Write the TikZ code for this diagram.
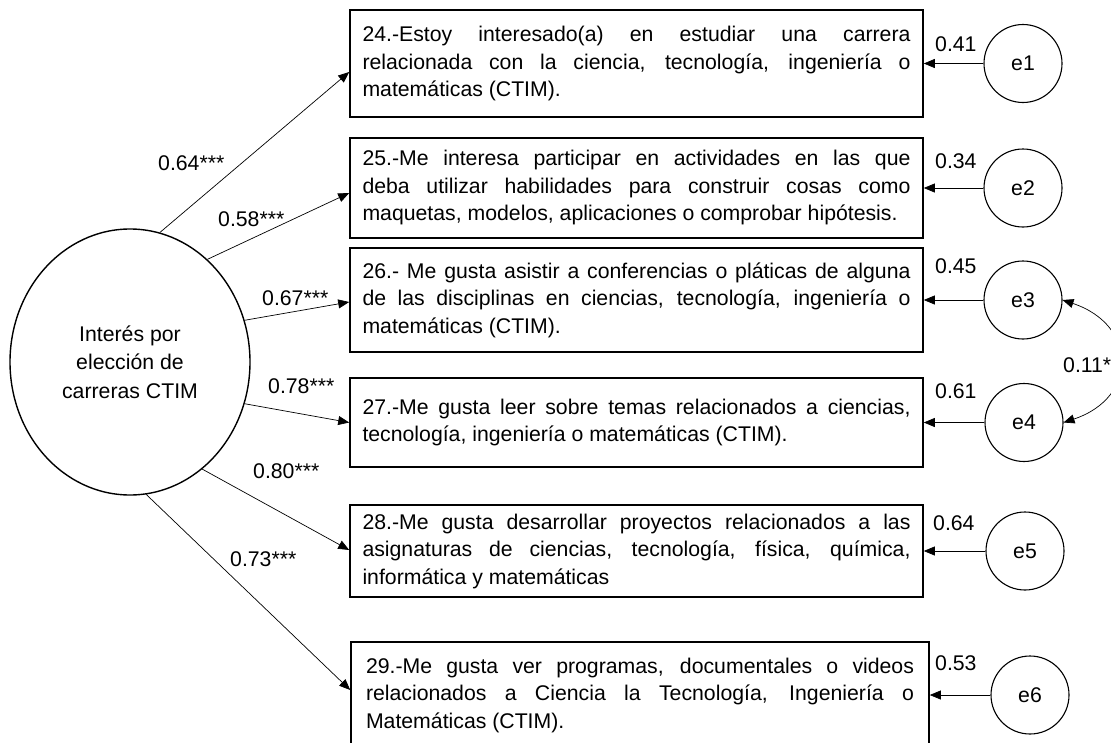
\documentclass[tikz,border=0pt]{standalone}
\usepackage{fontspec}
\setmainfont{Liberation Sans}
\usetikzlibrary{shapes.geometric,arrows.meta}
\hyphenpenalty=10000
\exhyphenpenalty=10000
\tolerance=9999

\begin{document}
\begin{tikzpicture}[
  x=1pt, y=-1pt,
  item/.style={rectangle, draw, line width=1.6pt, text width=548pt, inner xsep=12.5pt, align=justify, font=\fontsize{21.25}{27.5}\selectfont},
  err/.style={circle, draw, line width=1.1pt, minimum size=78pt, inner sep=0pt, font=\fontsize{21.25}{25}\selectfont},
  coef/.style={font=\fontsize{21.25}{25}\selectfont, inner sep=0pt, anchor=base west},
  path/.style={->, line width=0.7pt},
  >={Triangle[length=11pt,width=9pt]},
  node distance=386.5pt
]
\useasboundingbox (0,0) rectangle (1111,742);

% latent factor
\node[ellipse, draw, line width=1.4pt, minimum width=240pt, minimum height=266pt, inner sep=0pt, align=center, font=\fontsize{21.25}{28.5}\selectfont] (lat) at (130,362) {Interés por\\elección de\\carreras CTIM};

% items
\node[item, minimum height=107pt] (q24) at (636.5,63.5) {24.-Estoy interesado(a) en estudiar una carrera\linebreak relacionada con la ciencia, tecnología, ingeniería o\linebreak matemáticas (CTIM).};
\node[item, minimum height=100pt] (q25) at (636.5,188) {25.-Me interesa participar en actividades en las que\linebreak deba utilizar habilidades para construir cosas como\linebreak maquetas, modelos, aplicaciones o comprobar hipótesis.};
\node[item, minimum height=104pt] (q26) at (636.5,300) {26.- Me gusta asistir a conferencias o pláticas de alguna\linebreak de las disciplinas en ciencias, tecnología, ingeniería o\linebreak matemáticas (CTIM).};
\node[item, minimum height=89pt] (q27) at (636.5,422.5) {27.-Me gusta leer sobre temas relacionados a ciencias,\linebreak tecnología, ingeniería o matemáticas (CTIM).};
\node[item, minimum height=92pt] (q28) at (636.5,551) {28.-Me gusta desarrollar proyectos relacionados a las\linebreak asignaturas de ciencias, tecnología, física, química,\linebreak informática y matemáticas};
\node[item, minimum height=106pt, inner xsep=15pt] (q29) at (640,695) {29.-Me gusta ver programas, documentales o videos\linebreak relacionados a Ciencia la Tecnología, Ingeniería o\linebreak Matemáticas (CTIM).};

% error terms
\node[err, right of=q24] (e1) {e1};
\node[err, right of=q25] (e2) {e2};
\node[err, right of=q26] (e3) {e3};
\node[err, right of=q27, xshift=1pt] (e4) {e4};
\node[err, right of=q28, xshift=2pt] (e5) {e5};
\node[err, right of=q29, xshift=3.5pt] (e6) {e6};

% loadings
\draw[path] (lat.77) -- ([yshift=-8.5pt]q24.west);
\draw[path] (lat.53) -- ([yshift=-5pt]q25.west);
\draw[path] (lat.20) -- ([yshift=-2pt]q26.west);
\draw[path] (lat.-20) -- (q27.west);
\draw[path] (lat.-56) -- ([yshift=1pt]q28.west);
\draw[path] (lat.-83) -- ([yshift=5pt]q29.west);

\node[coef] (l24) at (158,170) {0.64***};
\node[coef] (l25) at (218,226) {0.58***};
\node[coef] (l26) at (262,305) {0.67***};
\node[coef] (l27) at (268,393) {0.78***};
\node[coef] (l28) at (253,478) {0.80***};
\node[coef] (l29) at (230,566) {0.73***};

% residuals
\draw[path] (e1) -- (e1 -| q24.east);
\draw[path] (e2) -- (e2 -| q25.east);
\draw[path] (e3) -- (e3 -| q26.east);
\draw[path] (e4) -- (e4 -| q27.east);
\draw[path] (e5) -- (e5 -| q28.east);
\draw[path] (e6) -- (e6 -| q29.east);

\node[coef] (r1) at (935,51) {0.41};
\node[coef] (r2) at (935,168) {0.34};
\node[coef] (r3) at (935,273) {0.45};
\node[coef] (r4) at (935,398) {0.61};
\node[coef] (r5) at (933,530) {0.64};
\node[coef] (r6) at (935,670) {0.53};

% covariance
\draw[<->, line width=0.7pt] (e3.east) .. controls +(75,25) and +(75,-25) .. (e4.east);
\node[coef] (c34) at (1063,372) {0.11*};
\end{tikzpicture}
\end{document}
